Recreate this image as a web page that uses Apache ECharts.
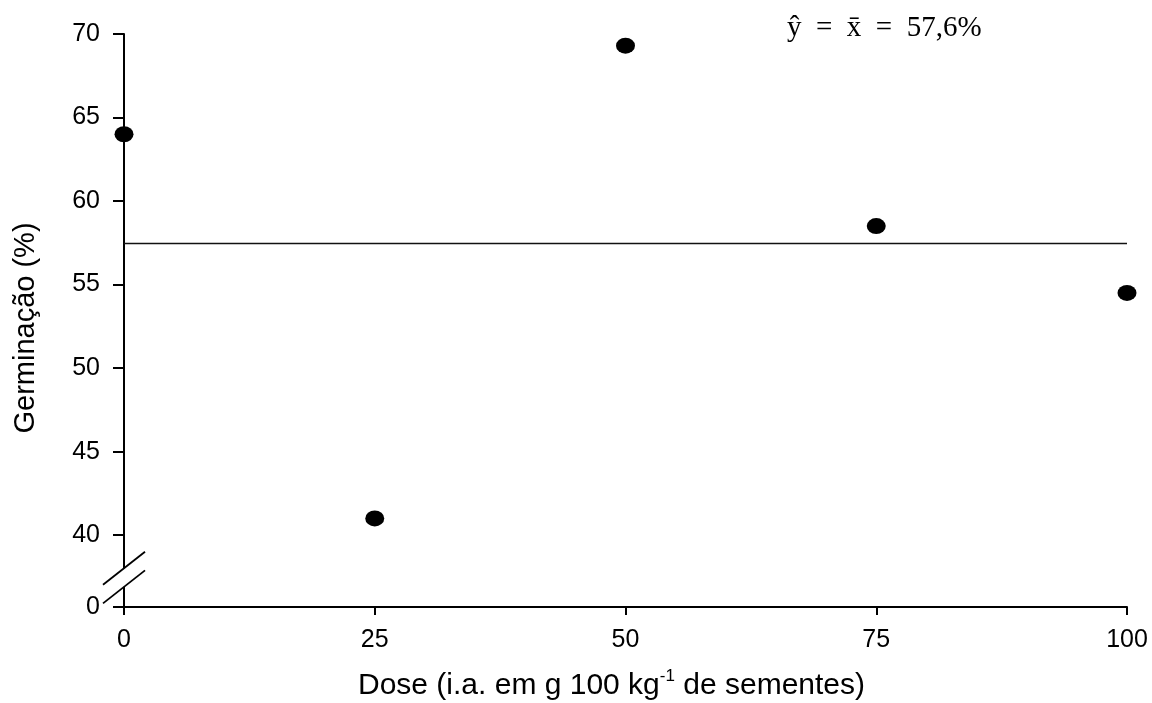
<!DOCTYPE html>
<html>
<head>
<meta charset="utf-8">
<script src="https://cdn.jsdelivr.net/npm/echarts@6/dist/echarts.min.js"></script>
<style>html,body{margin:0;padding:0;background:#fff;overflow:hidden}#c{width:1152px;height:703px}</style>
</head>
<body>
<div id="c"></div>
<script>
const doses = [0, 25, 50, 75, 100];
const germination = [64, 41, 69.3, 58.5, 54.5];
const meanLine = 57.46;
const xTicks = [0, 25, 50, 75, 100];
const yTicks = [40, 45, 50, 55, 60, 65, 70];
const yBreakBase = 35.7;   // axis position where the "0" label sits (after break)
const equation = 'ŷ\u2002=\u2002x̄\u2002=\u200257,6%';

const chart = echarts.init(document.getElementById('c'), null, {renderer: 'canvas'});
const sans = 'Liberation Sans, Arial, sans-serif';
const axisCol = '#000';

const option = {
  backgroundColor: '#fff',
  animation: false,
  grid: {left: 124, right: 25, top: 34, bottom: 96, containLabel: false, outerBoundsMode: 'none'},
  xAxis: {
    type: 'value', min: 0, max: 100, interval: 25,
    axisLine: {show: true, onZero: false, lineStyle: {color: axisCol, width: 2}},
    axisTick: {show: true, inside: false, length: 8, lineStyle: {color: axisCol, width: 2}},
    axisLabel: {show: true, margin: 21, color: '#000', fontSize: 25, fontFamily: sans},
    splitLine: {show: false},
    name: '{a|Dose (i.a. em g 100 kg}{s|-1}{a| de sementes)}',
    nameLocation: 'middle', nameGap: 61,
    nameTextStyle: {padding: [0, 28, 0, 0], rich: {
      a: {fontSize: 30, fontFamily: sans, color: '#000', verticalAlign: 'bottom', lineHeight: 33},
      s: {fontSize: 17, fontFamily: sans, color: '#000', verticalAlign: 'top', lineHeight: 33, padding: [0,0,15,0]}
    }}
  },
  yAxis: {
    type: 'value', min: yBreakBase, max: 70,
    axisLine: {show: true, lineStyle: {color: axisCol, width: 2}},
    axisTick: {show: true, inside: false, length: 11, customValues: [yBreakBase].concat(yTicks), lineStyle: {color: axisCol, width: 2}},
    axisLabel: {show: true, margin: 24, color: '#000', fontSize: 25, fontFamily: sans,
      customValues: [yBreakBase].concat(yTicks),
      formatter: v => (v < 39 ? '0' : String(Math.round(v)))},
    splitLine: {show: false},
    name: 'Germinação (%)', nameLocation: 'middle', nameGap: 84, nameRotate: 90,
    nameTextStyle: {fontSize: 29, fontFamily: sans, color: '#000', padding: [0, 15, 0, 0]}
  },
  series: [
    {
      type: 'line', data: [[xTicks[0], meanLine], [xTicks[xTicks.length - 1], meanLine]],
      symbol: 'none', lineStyle: {color: '#111', width: 1.5}, z: 2, silent: true
    },
    {
      type: 'scatter', data: doses.map((d, i) => [d, germination[i]]),
      symbol: 'circle', symbolSize: [19, 16],
      itemStyle: {color: '#000', opacity: 1}, z: 5, clip: false
    }
  ]
};
chart.setOption(option);

// axis-break marks and equation text
const p40 = chart.convertToPixel({gridIndex: 0}, [0, 40]);
const p0 = chart.convertToPixel({gridIndex: 0}, [0, yBreakBase]);
const ax = p0[0];
const span = p0[1] - p40[1];
const yU = p40[1] + span * 0.46;
const yL = p40[1] + span * 0.72;
const dx = 21, dy = 16.5;
chart.setOption({
  graphic: [
    {type: 'rect', shape: {x: ax - 5, y: yU, width: 10, height: yL - yU}, style: {fill: '#fff'}, z: 100},
    {type: 'line', shape: {x1: ax - dx, y1: yU + dy, x2: ax + dx, y2: yU - dy}, style: {stroke: '#000', lineWidth: 1.8}, z: 101},
    {type: 'line', shape: {x1: ax - dx, y1: yL + dy, x2: ax + dx, y2: yL - dy}, style: {stroke: '#000', lineWidth: 1.8}, z: 101},
    {type: 'text', left: 787, top: 14, z: 101,
      style: {text: equation, fontSize: 29, fontFamily: 'Liberation Serif, DejaVu Serif, serif', fill: '#000'}}
  ]
});
</script>
</body>
</html>
